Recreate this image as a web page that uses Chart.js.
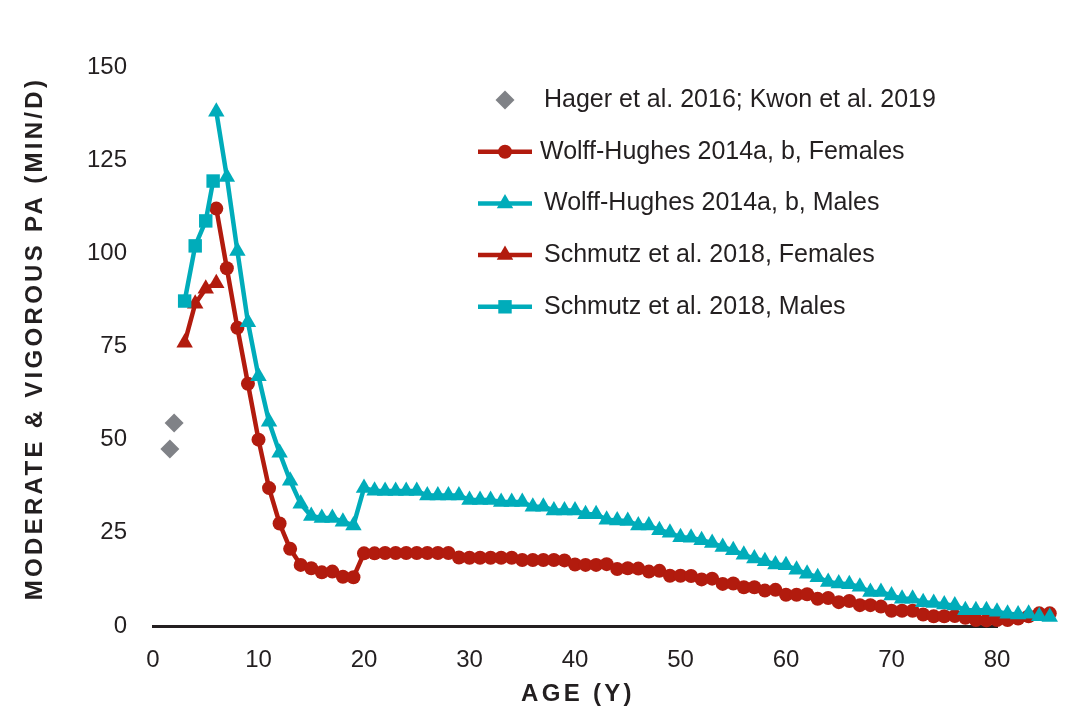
<!DOCTYPE html>
<html>
<head>
<meta charset="utf-8">
<title>MVPA by age</title>
<script src="https://cdn.jsdelivr.net/npm/chart.js@4.4.1/dist/chart.umd.min.js"></script>
<style>
  html, body { margin: 0; padding: 0; background: #fff; }
  #wrap { width: 1087px; height: 724px; position: relative; }
</style>
</head>
<body>
<div id="wrap"><canvas id="chart"></canvas></div>
<script>
// Données (âge en années, MVPA en min/jour)
const xTicks = [0, 10, 20, 30, 40, 50, 60, 70, 80];
const yTicks = [0, 25, 50, 75, 100, 125, 150];

const agesHager = [1.6, 2.0];
const hager = [47.5, 54.5];

const agesSchmutzF = [3, 4, 5, 6];
const schmutzF = [76, 86.5, 90.5, 92];

const agesSchmutzM = [3, 4, 5, 5.7];
const schmutzM = [87.2, 102, 108.7, 119.4];

const agesWolff = [
   6,  7,  8,  9, 10, 11, 12, 13, 14, 15, 16, 17, 18, 19, 20, 21, 22, 23, 24, 25,
  26, 27, 28, 29, 30, 31, 32, 33, 34, 35, 36, 37, 38, 39, 40, 41, 42, 43, 44, 45,
  46, 47, 48, 49, 50, 51, 52, 53, 54, 55, 56, 57, 58, 59, 60, 61, 62, 63, 64, 65,
  66, 67, 68, 69, 70, 71, 72, 73, 74, 75, 76, 77, 78, 79, 80, 81, 82, 83, 84, 85
];
const wolffF = [
  112, 96, 80, 65, 50, 37, 27.5, 20.7, 16.4, 15.5, 14.4, 14.6, 13.2, 13.1, 19.5, 19.5, 19.6, 19.6, 19.6, 19.6,
  19.6, 19.6, 19.6, 18.4, 18.3, 18.3, 18.3, 18.3, 18.3, 17.7, 17.7, 17.7, 17.7, 17.6, 16.5, 16.4, 16.4, 16.6, 15.3, 15.5,
  15.4, 14.6, 14.8, 13.5, 13.5, 13.4, 12.5, 12.7, 11.3, 11.4, 10.4, 10.4, 9.5, 9.7, 8.4, 8.4, 8.5, 7.3, 7.5, 6.4,
  6.7, 5.6, 5.6, 5.2, 4.1, 4.1, 4.1, 3.1, 2.6, 2.6, 2.7, 2.2, 1.6, 1.5, 1.6, 1.6, 2.0, 2.6, 3.4, 3.4
];
const wolffM = [
  138, 120.5, 100.6, 81.5, 67, 54.8, 46.5, 39, 32.8, 29.5, 29, 29, 28, 27, 37, 36.3, 36.2, 36.2, 36.2, 36.2,
  35, 35, 35, 35, 33.8, 33.8, 33.8, 33.3, 33.3, 33.3, 32, 32, 31, 31, 31, 30, 30, 28.5, 28.3, 28.2,
  27, 27, 25.7, 25, 23.8, 23.7, 23, 22.3, 21.2, 20.3, 19.1, 18.1, 17.4, 16.5, 16.3, 15.1, 14, 13.1, 11.8, 11.4,
  11.2, 10.5, 9.1, 9.1, 8.2, 7.3, 7.3, 6.4, 6.2, 5.8, 5.5, 4.2, 4.2, 4.2, 3.8, 3.3, 3.1, 3.3, 2.6, 2.4
];

const RED = '#B21B0E';
const CYAN = '#00ACBA';
const GREY = '#808287';
const INK = '#231F20';
const FONT = '"Liberation Sans", Arial, Helvetica, sans-serif';

const pts = (xs, ys) => xs.map((x, i) => ({ x: x, y: ys[i] }));

function serie(label, xs, ys, color, style, radius, order, line) {
  return {
    label: label,
    data: pts(xs, ys),
    showLine: line,
    borderColor: color,
    backgroundColor: color,
    borderWidth: 4.5,
    pointStyle: style,
    pointRadius: radius,
    pointHoverRadius: radius,
    pointBorderWidth: 0,
    pointBackgroundColor: color,
    tension: 0,
    clip: false,
    order: order
  };
}

// Dessin d'un marqueur (légende)
function marker(ctx, style, x, y, r, color) {
  ctx.save();
  ctx.fillStyle = color;
  ctx.beginPath();
  if (style === 'circle') {
    ctx.arc(x, y, r, 0, Math.PI * 2);
  } else if (style === 'triangle') {
    ctx.moveTo(x, y - r);
    ctx.lineTo(x + r * Math.sin(2 * Math.PI / 3), y + r / 2);
    ctx.lineTo(x - r * Math.sin(2 * Math.PI / 3), y + r / 2);
  } else if (style === 'rect') {
    const s = r * Math.SQRT1_2;
    ctx.rect(x - s, y - s, 2 * s, 2 * s);
  } else if (style === 'rectRot') {
    ctx.moveTo(x, y - r);
    ctx.lineTo(x + r, y);
    ctx.lineTo(x, y + r);
    ctx.lineTo(x - r, y);
  }
  ctx.closePath();
  ctx.fill();
  ctx.restore();
}

// Les points au-delà de 80 ans sont hors de la zone : Chart.js ne les dessine pas
const outsidePoints = {
  id: 'outsidePoints',
  afterDatasetsDraw(chart) {
    const full = { left: 0, top: 0, right: chart.width, bottom: chart.height };
    const right = chart.chartArea.right;
    const metas = chart.getSortedVisibleDatasetMetas();
    for (let i = metas.length - 1; i >= 0; i--) {
      metas[i].data.forEach(el => {
        if (el.x > right + 0.5) el.draw(chart.ctx, full);
      });
    }
  }
};

// Légende placée à l'intérieur du graphique
const legendPlugin = {
  id: 'customLegend',
  afterDraw(chart) {
    const ctx = chart.ctx;
    ctx.save();
    ctx.font = '25px ' + FONT;
    ctx.textBaseline = 'middle';
    chart.data.datasets.forEach((ds, row) => {
      const y = 100 + row * 51.7;
      if (ds.showLine) {
        ctx.strokeStyle = ds.borderColor;
        ctx.lineWidth = 4.5;
        ctx.beginPath();
        ctx.moveTo(478, y);
        ctx.lineTo(532, y);
        ctx.stroke();
      }
      marker(ctx, ds.pointStyle, 505, y, ds.pointRadius, ds.backgroundColor);
      ctx.fillStyle = INK;
      ctx.fillText(ds.label, row === 1 ? 540 : 544, y);
    });
    ctx.restore();
  }
};

// Titres d'axes en gras avec espacement des lettres
const titlesPlugin = {
  id: 'axisTitles',
  afterDraw(chart) {
    const ctx = chart.ctx;
    const a = chart.chartArea;
    ctx.save();
    ctx.font = 'bold 24px ' + FONT;
    ctx.fillStyle = INK;
    ctx.letterSpacing = '3.3px';
    ctx.textAlign = 'center';
    ctx.textBaseline = 'middle';
    ctx.fillText('AGE (Y)', (a.left + a.right) / 2 + 3, 694);
    ctx.translate(35, (a.top + a.bottom) / 2 - 8);
    ctx.rotate(-Math.PI / 2);
    ctx.fillText('MODERATE & VIGOROUS PA (MIN/D)', 0, 0);
    ctx.restore();
  }
};

const ctx = document.getElementById('chart').getContext('2d');
new Chart(ctx, {
  type: 'line',
  data: {
    datasets: [
      serie('Hager et al. 2016; Kwon et al. 2019', agesHager, hager, GREY, 'rectRot', 9.5, 5, false),
      serie('Wolff-Hughes 2014a, b, Females', agesWolff, wolffF, RED, 'circle', 7, 4, true),
      serie('Wolff-Hughes 2014a, b, Males', agesWolff, wolffM, CYAN, 'triangle', 9.5, 1, true),
      serie('Schmutz et al. 2018, Females', agesSchmutzF, schmutzF, RED, 'triangle', 9.5, 3, true),
      serie('Schmutz et al. 2018, Males', agesSchmutzM, schmutzM, CYAN, 'rect', 9.5, 2, true)
    ]
  },
  options: {
    responsive: true,
    maintainAspectRatio: false,
    animation: false,
    layout: { padding: { left: 0, right: 90, top: 67, bottom: 38 } },
    plugins: {
      legend: { display: false },
      tooltip: { enabled: false }
    },
    scales: {
      x: {
        type: 'linear',
        afterDataLimits: s => { s.min = xTicks[0]; s.max = xTicks[xTicks.length - 1]; },
        afterBuildTicks: s => { s.ticks = xTicks.map(v => ({ value: v })); },
        afterFit: s => { s.height = 60; },
        grid: { display: false, drawTicks: false },
        border: { display: true, color: INK, width: 3 },
        ticks: { color: INK, padding: 20, font: { family: FONT, size: 24 } }
      },
      y: {
        min: 0,
        max: 150,
        afterBuildTicks: s => { s.ticks = yTicks.map(v => ({ value: v })); },
        afterFit: s => { s.width = 153; },
        grid: { display: false, drawTicks: false },
        border: { display: false },
        ticks: { color: INK, padding: 26, font: { family: FONT, size: 24 } }
      }
    }
  },
  plugins: [outsidePoints, legendPlugin, titlesPlugin]
});
</script>
</body>
</html>
